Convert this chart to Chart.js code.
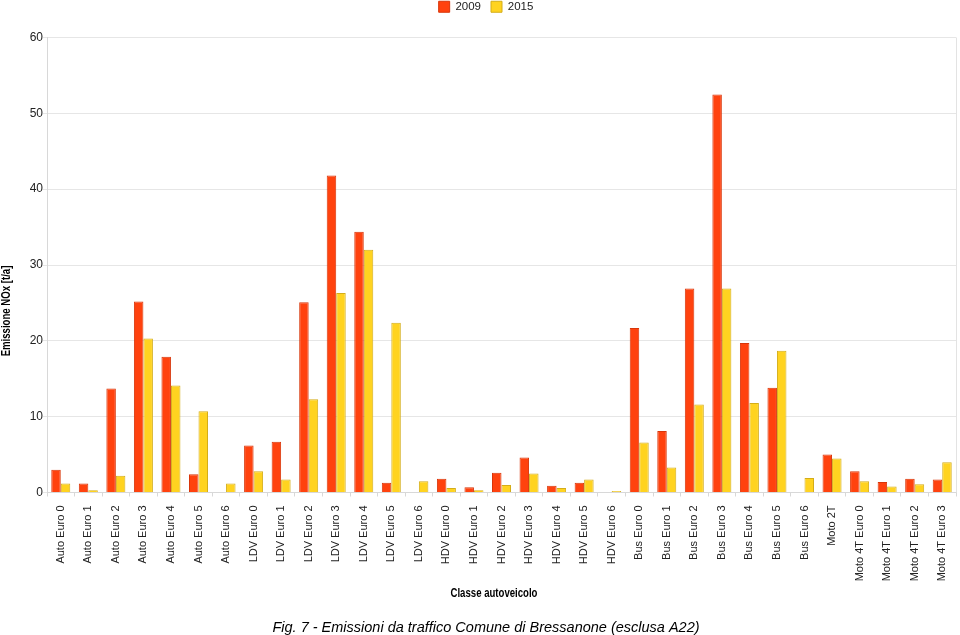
<!DOCTYPE html>
<html>
<head>
<meta charset="utf-8">
<script src="https://cdn.jsdelivr.net/npm/chart.js@4"></script>
<style>
  html, body { margin: 0; padding: 0; background: #fff; }
  #wrap { width: 960px; height: 635px; position: relative; }
</style>
</head>
<body>
<div id="wrap"><canvas id="noxChart"></canvas></div>
<script>
// Categories (classe autoveicolo)
const categories = [
    "Auto Euro 0", "Auto Euro 1", "Auto Euro 2", "Auto Euro 3", "Auto Euro 4", "Auto Euro 5", "Auto Euro 6",
    "LDV Euro 0", "LDV Euro 1", "LDV Euro 2", "LDV Euro 3", "LDV Euro 4", "LDV Euro 5", "LDV Euro 6",
    "HDV Euro 0", "HDV Euro 1", "HDV Euro 2", "HDV Euro 3", "HDV Euro 4", "HDV Euro 5", "HDV Euro 6",
    "Bus Euro 0", "Bus Euro 1", "Bus Euro 2", "Bus Euro 3", "Bus Euro 4", "Bus Euro 5", "Bus Euro 6",
    "Moto 2T", "Moto 4T Euro 0", "Moto 4T Euro 1", "Moto 4T Euro 2", "Moto 4T Euro 3"
];

// Emissione NOx [t/a]
const values2009 = [
    3.0, 1.2, 13.7, 25.2, 17.9, 2.4, 0,
    6.2, 6.7, 25.1, 41.8, 34.4, 1.3, 0,
    1.8, 0.7, 2.6, 4.6, 0.9, 1.3, 0,
    21.7, 8.1, 26.9, 52.5, 19.7, 13.8, 0,
    5.0, 2.8, 1.4, 1.8, 1.7
];
const values2015 = [
    1.2, 0.3, 2.2, 20.3, 14.1, 10.7, 1.2,
    2.8, 1.7, 12.3, 26.3, 32.0, 22.4, 1.5,
    0.6, 0.3, 1.0, 2.5, 0.6, 1.7, 0.2,
    6.6, 3.3, 11.6, 26.9, 11.8, 18.7, 1.9,
    4.5, 1.5, 0.8, 1.1, 4.0
];

// Axis settings
const yMin = 0;
const yMax = 60;
const yStep = 10;
const yTitle = "Emissione NOx [t/a]";
const xTitle = "Classe autoveicolo";

const fontFamily = "'Liberation Sans', Arial, sans-serif";

// Plot frame on the right side + axis titles placed like the original
const framePlugin = {
    id: "frame",
    afterLayout(chart) {
        // LibreOffice puts legend and caption a bit right of centre
        [chart.legend, chart.titleBlock].forEach((box) => {
            box.left += 8;
            box.right += 8;
        });
    },
    afterDraw(chart) {
        const { ctx, chartArea } = chart;
        ctx.save();
        ctx.strokeStyle = "#e3e3e3";
        ctx.lineWidth = 1;
        ctx.beginPath();
        ctx.moveTo(chartArea.right + 0.5, chartArea.top);
        ctx.lineTo(chartArea.right + 0.5, chartArea.bottom);
        ctx.stroke();

        // titles in a narrow bold face (squeezed along the text direction)
        ctx.fillStyle = "#000";
        ctx.font = "bold 12px " + fontFamily;
        ctx.textAlign = "center";
        ctx.textBaseline = "middle";

        ctx.save();
        ctx.translate(494, 594);
        ctx.scale(0.8, 1);
        ctx.fillText(xTitle, 0, 0);
        ctx.restore();

        ctx.translate(7, 311);
        ctx.rotate(-Math.PI / 2);
        ctx.scale(0.8, 1);
        ctx.fillText(yTitle, 0, 0);
        ctx.restore();
    }
};

// Add some space below the legend
const legendGap = {
    id: "legendGap",
    beforeInit(chart) {
        const origFit = chart.legend.fit;
        chart.legend.fit = function () {
            origFit.bind(chart.legend)();
            this.height += 15;
        };
    }
};

const ctx = document.getElementById("noxChart").getContext("2d");

new Chart(ctx, {
    type: "bar",
    data: {
        labels: categories,
        datasets: [
            {
                label: "2009",
                data: values2009,
                backgroundColor: "#ff420e",
                borderColor: "#d8360a",
                borderWidth: 1,
                categoryPercentage: 0.69,
                barPercentage: 1.0,
            },
            {
                label: "2015",
                data: values2015,
                backgroundColor: "#ffd320",
                borderColor: "#d4ad18",
                borderWidth: 1,
                categoryPercentage: 0.69,
                barPercentage: 1.0,
            },
        ],
    },
    options: {
        responsive: true,
        maintainAspectRatio: false,
        animation: false,
        layout: { padding: { top: -9, left: 0, right: 4, bottom: 0 } },
        plugins: {
            legend: {
                position: "top",
                labels: {
                    boxWidth: 11,
                    boxHeight: 11,
                    padding: 10,
                    color: "#222",
                    font: { family: fontFamily, size: 11.5 },
                },
            },
            title: {
                display: true,
                position: "bottom",
                text: "Fig. 7 - Emissioni da traffico Comune di Bressanone (esclusa A22)",
                color: "#000",
                font: { family: fontFamily, size: 14.5, style: "italic", weight: "normal", lineHeight: 1.0 },
                padding: { top: 0, bottom: 0 },
            },
            tooltip: { enabled: false },
        },
        scales: {
            x: {
                grid: {
                    display: true,
                    drawOnChartArea: false,
                    offset: true,
                    tickLength: 4,
                    color: "#d8d8d8",
                },
                border: { color: "#d8d8d8" },
                ticks: {
                    autoSkip: false,
                    maxRotation: 90,
                    minRotation: 90,
                    padding: 9,
                    color: "#222",
                    font: { family: fontFamily, size: 11 },
                },
                title: { display: false },
                afterFit(scale) {
                    scale.height = 128;
                    scale.paddingLeft = 0;
                    scale.paddingRight = 0;
                },
            },
            y: {
                min: yMin,
                max: yMax,
                ticks: {
                    stepSize: yStep,
                    padding: 0,
                    color: "#222",
                    font: { family: fontFamily, size: 12 },
                },
                grid: {
                    color: "#e6e6e6",
                    tickLength: 4,
                },
                border: { color: "#d8d8d8" },
                title: { display: false },
                afterFit(scale) {
                    scale.width = 47;
                },
            },
        },
    },
    plugins: [framePlugin, legendGap],
});
</script>
</body>
</html>
